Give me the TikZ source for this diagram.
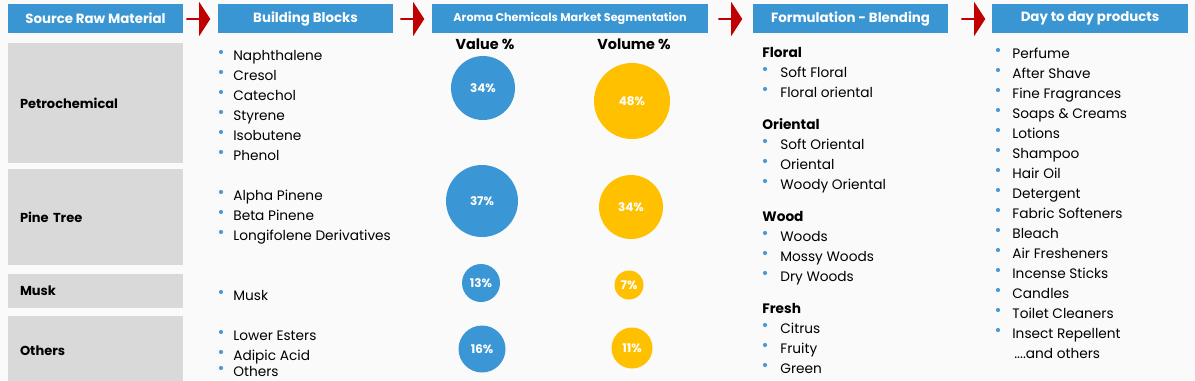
\documentclass[tikz,border=0pt]{standalone}
\usepackage{fontspec}
\setmainfont{Poppins}
\usepackage{xcolor}
\usetikzlibrary{calc,shapes.arrows}

\definecolor{hdrblue}{HTML}{3A95D3}
\definecolor{arrred}{HTML}{C00000}
\definecolor{srcgray}{HTML}{D9D9D9}
\definecolor{valblue}{HTML}{3A96D4}
\definecolor{volyellow}{HTML}{FFC000}
\definecolor{bullblue}{HTML}{4A9BD8}

\tikzset{
  hdr/.style={fill=hdrblue, text=white, inner sep=0, minimum height=0.58cm,
    font=\bfseries\fontsize{7.6}{9}\selectfont},
  flowarrow/.style={single arrow, fill=arrred, inner sep=0, minimum height=0.48cm,
    minimum width=0.68cm, single arrow head extend=0.14cm,
    single arrow tip angle=114, single arrow head indent=0},
  srcbox/.style={fill=srcgray, inner xsep=0.24cm, inner ysep=0, minimum width=3.5cm,
    text width=3.02cm, align=left, font=\bfseries\fontsize{7.4}{9}\selectfont},
  item/.style={anchor=west, inner sep=0, text height=1.5ex, text depth=0.4ex,
    font=\fontsize{7.8}{9}\selectfont},
  grp/.style={item, font=\bfseries\fontsize{7.8}{9}\selectfont},
  colhead/.style={font=\bfseries\fontsize{8.2}{9}\selectfont, inner sep=0},
  share/.style={circle, inner sep=0, text=white, font=\bfseries\fontsize{6.8}{8}\selectfont},
}

\begin{document}
\begin{tikzpicture}[x=0.02cm, y=-0.02cm]

	% canvas
	\fill[white!98!black] (0,0) rectangle (1195,380);
	\useasboundingbox (0,0) rectangle (1195,380);

	%====================
	% 1) header bars and arrows
	%====================
	\node[hdr, minimum width=3.5cm]  (hsrc)  at (95.5,18.5)  {Source Raw Material};
	\node[hdr, minimum width=3.5cm]  (hbb)   at (305.5,18.5) {Building Blocks};
	\node[hdr, minimum width=5.52cm, font=\bfseries\fontsize{6.4}{8}\selectfont]
	     (hseg)  at (570,18.5)   {Aroma Chemicals Market Segmentation};
	\node[hdr, minimum width=3.9cm]  (hform) at (850.5,18.5) {Formulation - Blending};
	\node[hdr, minimum width=3.92cm] (hday)  at (1090,18.5)  {Day to day products};

	\node[flowarrow] (a1) at (198,19) {};
	\node[flowarrow] (a2) at (412,19) {};
	\node[flowarrow] (a3) at (730,19) {};
	\node[flowarrow] (a4) at (973,19) {};

	%====================
	% 2) source raw material boxes
	%====================
	\node[srcbox, minimum height=2.4cm]  (petro) at (95.5,103)   {Petrochemical};
	\node[srcbox, minimum height=1.92cm] (pine)  at (95.5,217)   {Pine Tree};
	\node[srcbox, minimum height=0.68cm] (musk)  at (95.5,291)   {Musk};
	\node[srcbox, minimum height=1.4cm]  (oth)   at (95.5,351)   {Others};

	%====================
	% 3) building blocks
	%====================
	\foreach \t/\y [count=\i] in {Naphthalene/55, Cresol/75, Catechol/95, Styrene/115,
	    Isobutene/135, Phenol/155, Alpha Pinene/195, Beta Pinene/215,
	    Longifolene Derivatives/235, Musk/295, Lower Esters/335, Adipic Acid/355, Others/371} {
		\node[item] (bb\i) at (233,\y) {\t};
		\fill[bullblue] ($(bb\i.west)+(-12,-3)$) circle (2.1);
	}

	%====================
	% 4) market segmentation circles
	%====================
	\node[colhead] (val) at (485,44) {Value \%};
	\node[colhead] (vol) at (634,44) {Volume \%};

	\node[share, fill=valblue, minimum size=1.28cm] (v1) at (483,88)  {34\%};
	\node[share, fill=valblue, minimum size=1.44cm] (v2) at (482,201) {37\%};
	\node[share, fill=valblue, minimum size=0.76cm] (v3) at (481,283) {13\%};
	\node[share, fill=valblue, minimum size=0.94cm] (v4) at (482,349) {16\%};

	\node[share, fill=volyellow, minimum size=1.52cm] (w1) at (632,101) {48\%};
	\node[share, fill=volyellow, minimum size=1.28cm] (w2) at (631,207) {34\%};
	\node[share, fill=volyellow, minimum size=0.58cm] (w3) at (629,285) {7\%};
	\node[share, fill=volyellow, minimum size=0.82cm] (w4) at (632,348) {11\%};

	%====================
	% 5) formulation - blending
	%====================
	\node[grp] (gflo) at (762,52)  {Floral};
	\node[grp] (gori) at (762,124) {Oriental};
	\node[grp] (gwoo) at (762,216) {Wood};
	\node[grp] (gfre) at (762,308) {Fresh};
	\foreach \t/\y [count=\i] in {Soft Floral/72, Floral oriental/92, Soft Oriental/144,
	    Oriental/164, Woody Oriental/184, Woods/236, Mossy Woods/256, Dry Woods/276,
	    Citrus/328, Fruity/348, Green/368} {
		\node[item] (fb\i) at (780,\y) {\t};
		\fill[bullblue] ($(fb\i.west)+(-15,-3)$) circle (2.1);
	}

	%====================
	% 6) day to day products
	%====================
	\foreach \t/\y [count=\i] in {Perfume/53, After Shave/73, Fine Fragrances/93,
	    Soaps \& Creams/113, Lotions/133, Shampoo/153, Hair Oil/173, Detergent/193,
	    Fabric Softeners/213, Bleach/233, Air Fresheners/253, Incense Sticks/273,
	    Candles/293, Toilet Cleaners/313, Insect Repellent/333} {
		\node[item] (dp\i) at (1012,\y) {\t};
		\fill[bullblue] ($(dp\i.west)+(-14,-3)$) circle (2.1);
	}
	\node[item] (dpmore) at (1014,353) {....and others};

\end{tikzpicture}
\end{document}
